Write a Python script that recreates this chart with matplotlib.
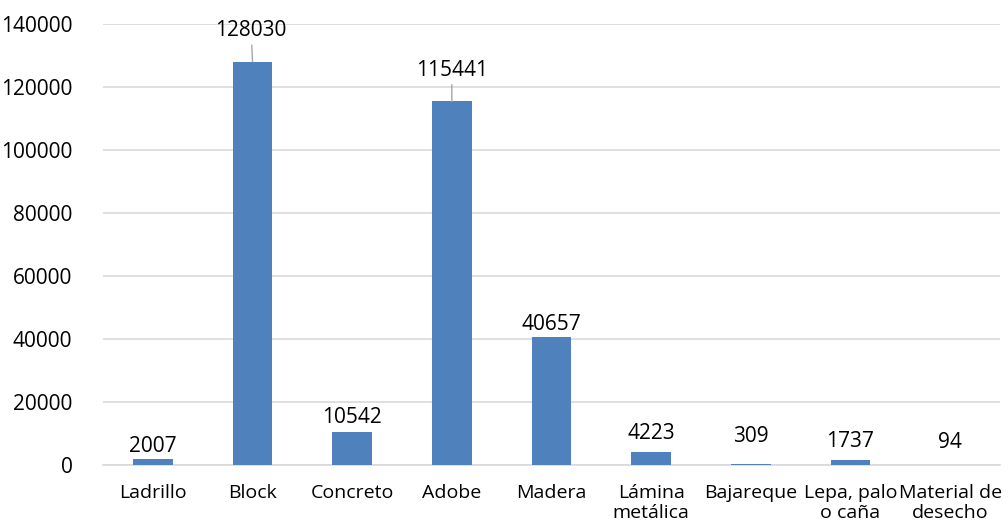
import matplotlib
matplotlib.use("Agg")
import matplotlib.pyplot as plt

categories = ["Ladrillo", "Block", "Concreto", "Adobe", "Madera",
              "Lámina\nmetálica", "Bajareque", "Lepa, palo\no caña",
              "Material de\ndesecho"]
values = [2007, 128030, 10542, 115441, 40657, 4223, 309, 1737, 94]
yticks = [0, 20000, 40000, 60000, 80000, 100000, 120000, 140000]

# label offsets above bar top (points); leader lines where offset is large
label_dy = [1, 15, 3, 15, 1.5, 5.5, 12.5, 5.5, 8.5]
label_dx = [0, -1, 0, 0, 0, 0, 0, 0, 0]
leader = [False, True, False, True, False, False, False, False, False]

plt.rcParams["font.family"] = ["Open Sans", "DejaVu Sans"]

fig = plt.figure(figsize=(10.08, 5.27), dpi=100)
ax = fig.add_axes([103 / 1008, 62 / 527, 897 / 1008, 441 / 527])

x = list(range(len(categories)))
ax.bar(x, values, width=0.4, color="#4F81BD", zorder=3)

for xi, v, dy, dx, ld in zip(x, values, label_dy, label_dx, leader):
    ax.annotate(f"{v}", xy=(xi, v), xytext=(dx, dy),
                textcoords="offset points", ha="center", va="bottom",
                fontsize=15, color="#000000",
                arrowprops=dict(arrowstyle="-", color="#A6A6A6", lw=1,
                                shrinkA=1, shrinkB=0) if ld else None)

ax.set_xlim(-0.5, len(categories) - 0.5)
ax.set_ylim(0, 140000)
ax.set_yticks(yticks)
ax.set_yticklabels([str(t) for t in yticks], fontsize=15)
ax.set_xticks(x)
ax.set_xticklabels(categories, fontsize=14, linespacing=1.1, va="top")
ax.tick_params(axis="both", length=0)
ax.tick_params(axis="y", pad=22)
ax.tick_params(axis="x", pad=14)
ax.grid(axis="y", color="#D9D9D9", lw=1.2, zorder=0)
for s in ["top", "right", "left"]:
    ax.spines[s].set_visible(False)
ax.spines["bottom"].set_color("#D9D9D9")
ax.spines["bottom"].set_linewidth(1.2)

fig.savefig("out.png", dpi=100)
